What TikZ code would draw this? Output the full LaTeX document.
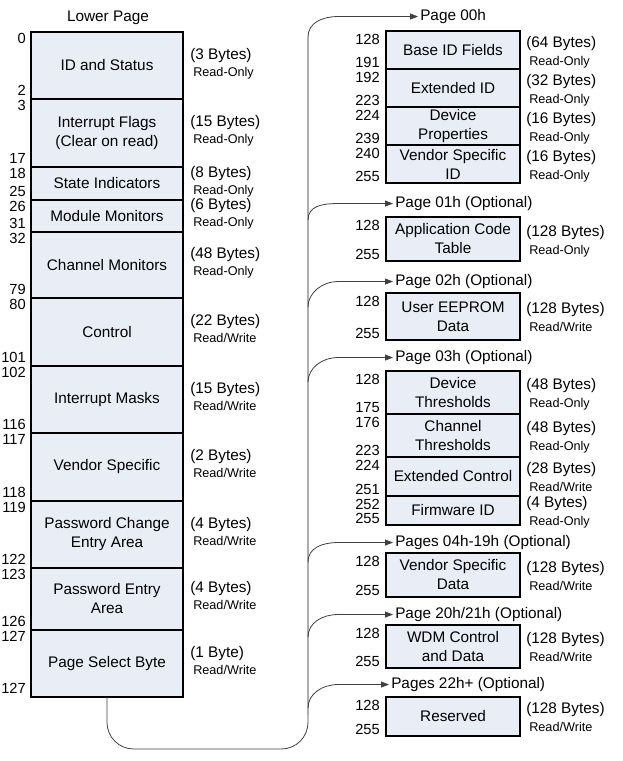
\documentclass[tikz,border=0pt]{standalone}
\usepackage{fontspec}
\setmainfont{Liberation Sans}
\usetikzlibrary{calc}
\usetikzlibrary{arrows.meta}

\definecolor{cellfill}{RGB}{233,237,246}

\begin{document}
\begin{tikzpicture}[
        x=0.75pt, y=-0.75pt,
        cell/.style={draw, line width=1.5pt, fill=cellfill, outer sep=0pt,
            inner sep=1pt, align=center, font=\fontsize{11.5}{14.25}\selectfont},
        L/.style={cell, minimum width=114pt},
        R/.style={cell, minimum width=100.5pt},
        num/.style={inner sep=0pt, font=\fontsize{11}{13}\selectfont},
        lbl/.style={inner sep=0pt, font=\fontsize{11.5}{14}\selectfont},
        acc/.style={inner sep=0pt, font=\fontsize{9.5}{11}\selectfont},
        page/.style={inner sep=1.5pt, font=\fontsize{11.5}{14}\selectfont},
        bus/.style={draw=black!32, line width=1.4pt},
        wire/.style={draw=black!75, line width=0.6pt},
        tap/.style={wire, -{Triangle[length=6pt,width=4.5pt]}}
    ]
    \useasboundingbox (0,0) rectangle (622,761);

    \node[lbl] (title) at (108,18) {Lower Page};

    % lower page
    \foreach \t/\b/\txt/\lo/\hi/\sz/\acc [count=\i] in {
        32/99/{ID and Status}/0/2/{3 Bytes}/{Read-Only},
        99/167/{Interrupt Flags\\(Clear on read)}/3/17/{15 Bytes}/{Read-Only},
        167/200/{State Indicators}/18/25/{8 Bytes}/{Read-Only},
        200/232/{Module Monitors}/26/31/{6 Bytes}/{Read-Only},
        232/298/{Channel Monitors}/32/79/{48 Bytes}/{Read-Only},
        298/366/{Control}/80/101/{22 Bytes}/{Read/Write},
        366/433/{Interrupt Masks}/102/116/{15 Bytes}/{Read/Write},
        433/501/{Vendor Specific}/117/118/{2 Bytes}/{Read/Write},
        501/568/{Password Change\\Entry Area}/119/122/{4 Bytes}/{Read/Write},
        568/630/{Password Entry\\Area}/123/126/{4 Bytes}/{Read/Write},
        630/697/{Page Select Byte}/127/127/{1 Byte}/{Read/Write}}{
        \node[L, minimum height={(\b-\t)*0.75pt}] (L\i) at (107,{(\t+\b)/2}) {\txt};
        \node[num, anchor=base east] (L\i-lo) at ($(L\i.north west)+(-5,11)$) {\lo};
        \node[num, anchor=base east] (L\i-hi) at ($(L\i.south west)+(-5,-4)$) {\hi};
        \node[lbl, anchor=base west] (L\i-sz) at ($(L\i.east)+(7,-6.5)$) {(\sz)};
        \node[acc, anchor=base west] (L\i-acc) at ($(L\i.east)+(10,10.5)$) {\acc};
    }

    % upper pages
    \foreach \t/\b/\txt/\lo/\hi/\sz/\acc [count=\i] in {
        31/69/{Base ID Fields}/128/191/{64 Bytes}/{Read-Only},
        69/107/{Extended ID}/192/223/{32 Bytes}/{Read-Only},
        107/145/{Device\\Properties}/224/239/{16 Bytes}/{Read-Only},
        145/183/{Vendor Specific\\ID}/240/255/{16 Bytes}/{Read-Only},
        217/261/{Application Code\\Table}/128/255/{128 Bytes}/{Read-Only},
        293/340/{User EEPROM\\Data}/128/255/{128 Bytes}/{Read/Write},
        371/414/{Device\\Thresholds}/128/175/{48 Bytes}/{Read-Only},
        414/457/{Channel\\Thresholds}/176/223/{48 Bytes}/{Read-Only},
        457/496/{Extended Control}/224/251/{28 Bytes}/{Read/Write},
        496/525/{Firmware ID}/252/255/{4 Bytes}/{Read-Only},
        553/597/{Vendor Specific\\Data}/128/255/{128 Bytes}/{Read/Write},
        625/668/{WDM Control\\and Data}/128/255/{128 Bytes}/{Read/Write},
        697/736/{Reserved}/128/255/{128 Bytes}/{Read/Write}}{
        \node[R, minimum height={(\b-\t)*0.75pt}] (R\i) at (453,{(\t+\b)/2}) {\txt};
        \node[num, anchor=base east] (R\i-lo) at ($(R\i.north west)+(-6,13)$) {\lo};
        \node[num, anchor=base east] (R\i-hi) at ($(R\i.south west)+(-6,-2)$) {\hi};
        \node[lbl, anchor=base west] (R\i-sz) at ($(R\i.east)+(6,-3)$) {(\sz)};
        \node[acc, anchor=base west] (R\i-acc) at ($(R\i.east)+(9,15)$) {\acc};
    }

    % page select bus
    \coordinate (busbot) at (308,715);
    \coordinate (loopR) at (308,749);
    \foreach \x/\y/\ty/\txt [count=\j from 0] in {
        418/15/37/{Page 00h},
        393/202/220/{Page 01h (Optional)},
        393/280/307/{Page 02h (Optional)},
        393/356/382/{Page 03h (Optional)},
        393/541/562/{Pages 04h-19h (Optional)},
        393/613/637/{Page 20h/21h (Optional)},
        389/683/708/{Pages 22h+ (Optional)}}{
        \node[page, anchor=base west] (P\j) at (\x,\y+5.5) {\txt};
        \coordinate (T\j) at (308,\ty);
    }
    \draw[bus] (T0) -- (busbot);
    \draw[wire, rounded corners=20pt] (L11.south) |- (loopR) -- (busbot);
    \foreach \j in {0,...,6}{
        \draw[tap] (T\j) .. controls +(0,-14) and +(-16,0) .. ($(T\j |- P\j.west)+(30,0)$) -- (P\j.west);
    }
\end{tikzpicture}
\end{document}
